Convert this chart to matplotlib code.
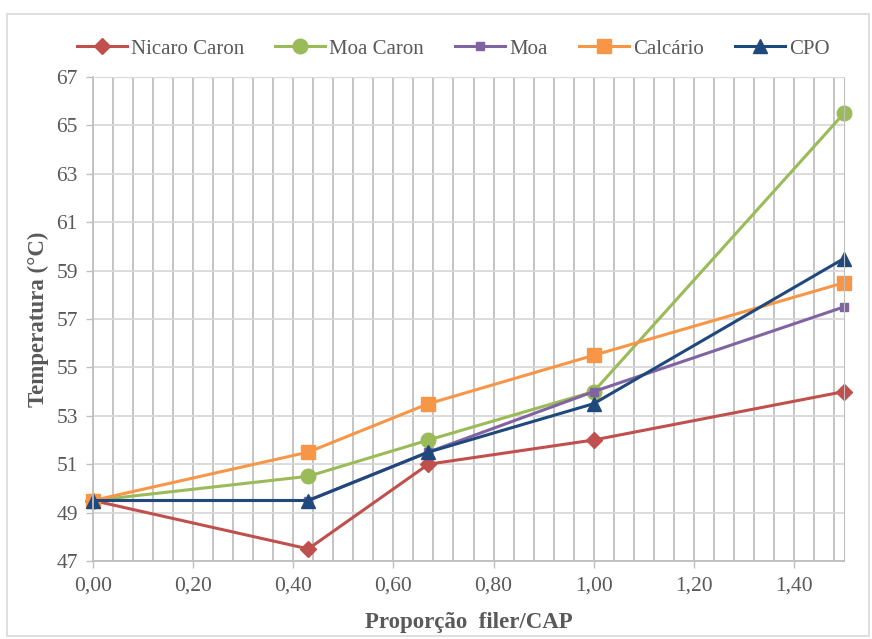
import matplotlib.pyplot as plt
from matplotlib.ticker import MultipleLocator, FuncFormatter
from matplotlib.patches import Rectangle

plt.rcParams['font.family'] = ['Liberation Serif', 'DejaVu Serif']

# dados
proporcao = [0.0, 0.43, 0.67, 1.0, 1.5]
nicaro_caron = [49.5, 47.5, 51.0, 52.0, 54.0]
moa_caron = [49.5, 50.5, 52.0, 54.0, 65.5]
moa = [49.5, 49.5, 51.5, 54.0, 57.5]
calcario = [49.5, 51.5, 53.5, 55.5, 58.5]
cpo = [49.5, 49.5, 51.5, 53.5, 59.5]
y_ticks = list(range(47, 68, 2))

texto = '#595959'

fig = plt.figure(figsize=(8.72, 6.39), dpi=100)
ax = fig.add_axes([93/872, 1-561/639, (844-93)/872, (561-77)/639])

# moldura externa
fig.patches.append(Rectangle((7/872, 3/639), 862/872, 622/639, transform=fig.transFigure,
                             fill=False, edgecolor='#d9d9d9', linewidth=1.2))

ax.plot(proporcao, nicaro_caron, color='#C0504D', lw=2.2, marker='D', ms=8.5, label='Nicaro Caron', clip_on=False)
ax.plot(proporcao, moa_caron, color='#9BBB59', lw=2.2, marker='o', ms=10.5, label='Moa Caron', clip_on=False)
ax.plot(proporcao, moa, color='#8064A2', lw=2.2, marker='s', ms=6, label='Moa', clip_on=False)
ax.plot(proporcao, calcario, color='#F79646', lw=2.2, marker='s', ms=10, label='Calcário', clip_on=False)
ax.plot(proporcao, cpo, color='#1F497D', lw=2.2, marker='^', ms=10.5, label='CPO', clip_on=False)

ax.set_xlim(0, 1.5)
ax.set_ylim(47, 67)
ax.xaxis.set_major_locator(MultipleLocator(0.2))
ax.xaxis.set_minor_locator(MultipleLocator(0.04))
ax.set_yticks(y_ticks)
ax.xaxis.set_major_formatter(FuncFormatter(lambda v, p: f'{v:.2f}'.replace('.', ',')))

ax.grid(axis='x', which='both', color='#bfbfbf', lw=1.3)
ax.grid(axis='y', which='major', color='#d9d9d9', lw=1.3)
ax.set_axisbelow(True)

ax.tick_params(axis='x', which='minor', length=0)
ax.tick_params(axis='both', which='major', length=5, width=1, color='#bfbfbf',
               labelsize=15.5, labelcolor=texto, pad=6)
for s in ['left', 'bottom']:
    ax.spines[s].set_color('#bfbfbf')
    ax.spines[s].set_linewidth(1.3)
ax.spines['top'].set_color('#d9d9d9')
ax.spines['right'].set_color('#bfbfbf')

ax.set_xlabel('Proporção  filer/CAP', fontsize=16.5, fontweight='bold', color=texto, labelpad=12)
ax.set_ylabel('Temperatura (°C)', fontsize=16.5, fontweight='bold', color=texto, labelpad=5)

leg = fig.legend(loc='center', bbox_to_anchor=(0.52, 1-49/639), ncol=5, frameon=False,
                 fontsize=15, handlelength=2.4, columnspacing=1.5, handletextpad=0.2)
for t in leg.get_texts():
    t.set_color(texto)

fig.savefig('out.png', dpi=100)
